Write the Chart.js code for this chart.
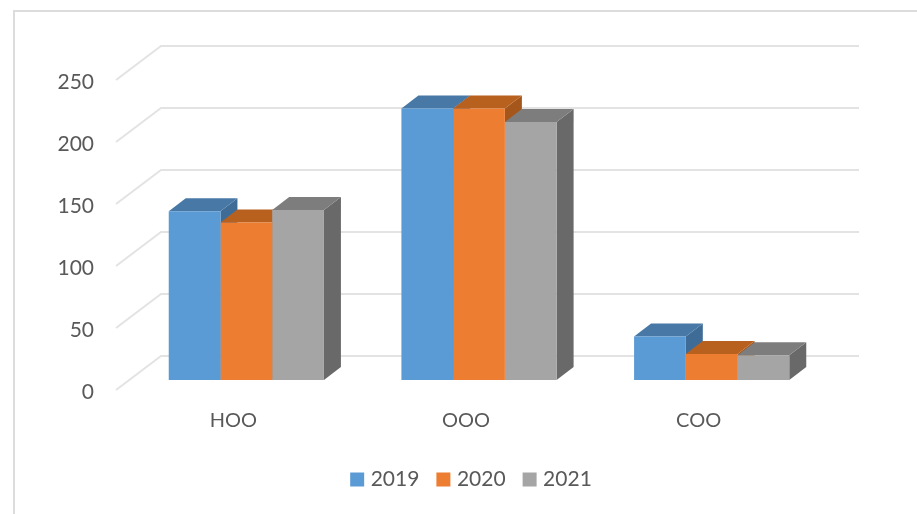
<!DOCTYPE html>
<html>
<head>
<meta charset="utf-8">
<script src="https://cdn.jsdelivr.net/npm/chart.js@4"></script>
<style>
  html, body { margin: 0; background: #fff; }
  canvas { display: block; filter: blur(0.4px); }
</style>
</head>
<body>
<canvas id="chart" width="917" height="514"></canvas>
<script>
const categories = ["HOO", "OOO", "COO"];
const years = ["2019", "2020", "2021"];
const values2019 = [136, 219, 35];
const values2020 = [127, 219, 21];
const values2021 = [137, 208, 20];

const frontColors = ["#5b9bd5", "#ed7d31", "#a5a5a5"];
const topColors = ["#4878a6", "#b8611f", "#7d7d7d"];
const sideColors = ["#3e6c97", "#a5561b", "#696969"];

// --------- Fake 3D: frame, walls and the bar depth faces ----------
const depth3d = {
  id: "depth3d",
  afterLayout(chart) {
    // legend sits under the bars, not centred on the plot area
    chart.legend.left += 44;
    chart.legend.right += 44;
  },
  beforeDraw(chart) {
    const ctx = chart.ctx;
    ctx.save();
    ctx.strokeStyle = "#dcdcdc";
    ctx.lineWidth = 2;
    ctx.beginPath();
    ctx.moveTo(14, 514);
    ctx.lineTo(14, 11);
    ctx.lineTo(917, 11);
    ctx.stroke();
    ctx.restore();
  },
  beforeDatasetsDraw(chart) {
    const ctx = chart.ctx;
    const { left, right } = chart.chartArea;
    const yScale = chart.scales.y;

    ctx.save();
    ctx.strokeStyle = "#e3e3e3";
    ctx.lineWidth = 2;
    yScale.ticks.forEach((tick) => {
      const y = yScale.getPixelForValue(tick.value);
      ctx.beginPath();
      ctx.moveTo(left - 14, y + 10);
      ctx.lineTo(left + 31, y - 24);
      ctx.lineTo(right + 31, y - 24);
      ctx.stroke();
    });

    // bar sides and tops, the fronts are the normal bars drawn after this
    const dx = 17;
    const dy = 13;
    chart.data.datasets.forEach((ds, i) => {
      chart.getDatasetMeta(i).data.forEach((bar) => {
        const x0 = bar.x - bar.width / 2;
        const x1 = bar.x + bar.width / 2;

        ctx.fillStyle = sideColors[i];
        ctx.beginPath();
        ctx.moveTo(x1, bar.y);
        ctx.lineTo(x1 + dx, bar.y - dy);
        ctx.lineTo(x1 + dx, bar.base - dy);
        ctx.lineTo(x1, bar.base);
        ctx.closePath();
        ctx.fill();

        ctx.fillStyle = topColors[i];
        ctx.beginPath();
        ctx.moveTo(x0, bar.y);
        ctx.lineTo(x0 + dx, bar.y - dy);
        ctx.lineTo(x1 + dx, bar.y - dy);
        ctx.lineTo(x1, bar.y);
        ctx.closePath();
        ctx.fill();
      });
    });
    ctx.restore();
  },
};

const labelFont = { family: "Lato", size: 21 };

new Chart(document.getElementById("chart"), {
  type: "bar",
  data: {
    labels: categories,
    datasets: [
      { label: years[0], data: values2019, backgroundColor: frontColors[0] },
      { label: years[1], data: values2020, backgroundColor: frontColors[1] },
      { label: years[2], data: values2021, backgroundColor: frontColors[2] },
    ],
  },
  plugins: [depth3d],
  options: {
    responsive: false,
    animation: false,
    layout: { padding: { left: 30, right: 89, top: 70, bottom: 14 } },
    datasets: { bar: { barPercentage: 1, categoryPercentage: 0.667 } },
    scales: {
      x: {
        grid: { display: false },
        border: { display: false },
        ticks: { color: "#595959", font: { family: "Lato", size: 20 }, padding: 21, labelOffset: -13, maxRotation: 0 },
        afterFit: (scale) => { scale.height = 68; },
      },
      y: {
        min: 0,
        max: 250,
        grid: { display: false },
        border: { display: false },
        ticks: { color: "#595959", font: labelFont, stepSize: 50, padding: 28, labelOffset: 12 },
        afterFit: (scale) => { scale.width = 100; },
      },
    },
    plugins: {
      tooltip: { enabled: false },
      legend: {
        position: "bottom",
        labels: {
          color: "#595959",
          font: labelFont,
          usePointStyle: true,
          pointStyle: "rect",
          boxWidth: 6,
          boxHeight: 14,
          padding: 21,
        },
      },
    },
  },
});
</script>
</body>
</html>
